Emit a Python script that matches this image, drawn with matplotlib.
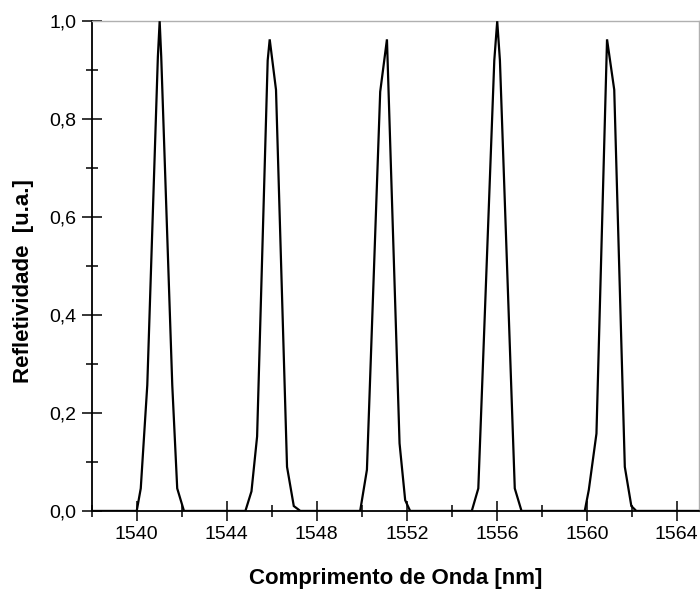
import numpy as np
import matplotlib
matplotlib.use('Agg')
import matplotlib.pyplot as plt
from matplotlib.ticker import MultipleLocator, FuncFormatter

plt.rcParams['font.family'] = ['Liberation Sans', 'DejaVu Sans']

# reflectivity spectrum (nm, a.u.)
wavelength = [1538.0,
              1540.0, 1540.18, 1540.47, 1540.94, 1541.02, 1541.09, 1541.58, 1541.8, 1542.1,
              1544.83, 1545.10, 1545.35, 1545.82, 1545.91, 1546.19, 1546.68, 1546.98, 1547.27,
              1549.93, 1550.23, 1550.82, 1551.12, 1551.68, 1551.93, 1552.15,
              1554.89, 1555.18, 1555.89, 1556.02, 1556.14, 1556.80, 1557.10,
              1559.91, 1560.09, 1560.43, 1560.90, 1561.22, 1561.69, 1561.98, 1562.20,
              1565.0]
reflect = [0.0,
           0.0, 0.046, 0.257, 0.927, 1.0, 0.927, 0.257, 0.046, 0.0,
           0.0, 0.04, 0.152, 0.92, 0.963, 0.86, 0.09, 0.01, 0.0,
           0.0, 0.084, 0.856, 0.963, 0.138, 0.022, 0.0,
           0.0, 0.046, 0.92, 1.0, 0.92, 0.046, 0.0,
           0.0, 0.043, 0.158, 0.963, 0.86, 0.09, 0.01, 0.0,
           0.0]

fig = plt.figure(figsize=(7, 5.9), dpi=100)
ax = fig.add_axes([0.131, 0.134, 0.868, 0.830])

ax.plot(wavelength, reflect, color='black', lw=1.6, solid_joinstyle='miter', zorder=3)

ax.set_xlim(1538, 1565)
ax.set_ylim(0, 1.0)

ax.xaxis.set_major_locator(MultipleLocator(4))
ax.xaxis.set_minor_locator(MultipleLocator(2))
ax.yaxis.set_major_locator(MultipleLocator(0.2))
ax.yaxis.set_minor_locator(MultipleLocator(0.1))
ax.yaxis.set_major_formatter(FuncFormatter(lambda v, p: f'{v:.1f}'.replace('.', ',')))
ax.xaxis.set_major_formatter(FuncFormatter(lambda v, p: f'{v:.0f}'))

ax.tick_params(which='major', direction='inout', length=14, width=1.1, labelsize=14,
               top=False, right=False, pad=4)
ax.tick_params(which='minor', direction='inout', length=8, width=1.1,
               top=False, right=False)

for s in ['left', 'bottom']:
    ax.spines[s].set_linewidth(1.3)
    ax.spines[s].set_color('black')
for s in ['top', 'right']:
    ax.spines[s].set_linewidth(1.0)
    ax.spines[s].set_color('#b0b0b0')

ax.set_xlabel('Comprimento de Onda [nm]', fontsize=16, fontweight='bold', labelpad=18)
ax.set_ylabel('Refletividade  [u.a.]', fontsize=16, fontweight='bold')
ax.yaxis.set_label_coords(-0.095, 0.47)

fig.savefig('out.png', dpi=100)
